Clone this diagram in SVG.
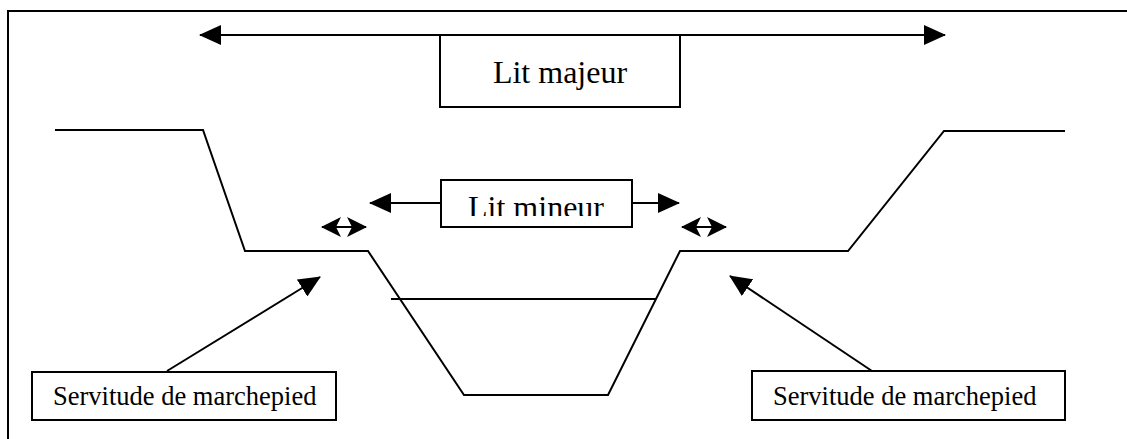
<svg xmlns="http://www.w3.org/2000/svg" width="1127" height="439" viewBox="0 0 1127 439">
  <style>
    .ln { fill: none; stroke: #000; stroke-width: 2; }
    .box { fill: #fff; stroke: #000; stroke-width: 2; }
    .big { font-family: "Liberation Serif", "Times New Roman", serif; font-size: 32px; fill: #000; }
    .small { font-family: "Liberation Serif", "Times New Roman", serif; font-size: 26.5px; fill: #000; }
  </style>
  <defs>
    <marker id="ah" markerUnits="userSpaceOnUse" markerWidth="22" markerHeight="20" viewBox="0 0 22 20" refX="21" refY="10" orient="auto-start-reverse">
      <path d="M0,0 L22,10 L0,20 Z" fill="#000"/>
    </marker>
    <marker id="ahs" markerUnits="userSpaceOnUse" markerWidth="20" markerHeight="20" viewBox="0 0 20 20" refX="19" refY="10" orient="auto-start-reverse">
      <path d="M0,0 L20,10 L0,20 L5,10 Z" fill="#000"/>
    </marker>
    <clipPath id="clipMineur">
      <rect x="442" y="181" width="190" height="35"/>
    </clipPath>
  </defs>

  <rect x="8" y="11" width="1200" height="500" fill="#fff" stroke="#000" stroke-width="2"/>

  <g id="profile">
    <polyline class="ln" points="55,130 203,130 245,251 368,251 464,395 608,395 680,251 848,251 944,131 1065,131"/>
    <line class="ln" x1="391" y1="299" x2="656" y2="299" stroke-width="1.8"/>
  </g>

  <g id="connectors">
    <line class="ln" x1="200" y1="35" x2="945" y2="35" marker-start="url(#ah)" marker-end="url(#ah)"/>
    <line class="ln" x1="370" y1="203" x2="441" y2="203" marker-start="url(#ah)"/>
    <line class="ln" x1="632" y1="203" x2="679" y2="203" marker-end="url(#ah)"/>
    <line class="ln" x1="322" y1="227" x2="366" y2="227" marker-start="url(#ahs)" marker-end="url(#ahs)"/>
    <line class="ln" x1="682" y1="227" x2="726" y2="227" marker-start="url(#ahs)" marker-end="url(#ahs)"/>
    <line class="ln" x1="167" y1="371" x2="320" y2="277" marker-end="url(#ah)"/>
    <line class="ln" x1="872" y1="371" x2="730" y2="276" marker-end="url(#ah)"/>
  </g>

  <g id="lit-majeur">
    <rect class="box" x="440" y="35" width="240" height="72"/>
    <text class="big" x="560" y="83" text-anchor="middle">Lit majeur</text>
  </g>

  <g id="lit-mineur">
    <rect class="box" x="441" y="180" width="191" height="47"/>
    <text class="big" x="536" y="218" text-anchor="middle" clip-path="url(#clipMineur)">Lit mineur</text>
  </g>

  <g id="servitude-left">
    <rect class="box" x="32" y="372" width="304" height="48"/>
    <text class="small" x="53" y="405">Servitude de marchepied</text>
  </g>

  <g id="servitude-right">
    <rect class="box" x="752" y="371" width="313" height="49"/>
    <text class="small" x="773" y="405">Servitude de marchepied</text>
  </g>
</svg>
